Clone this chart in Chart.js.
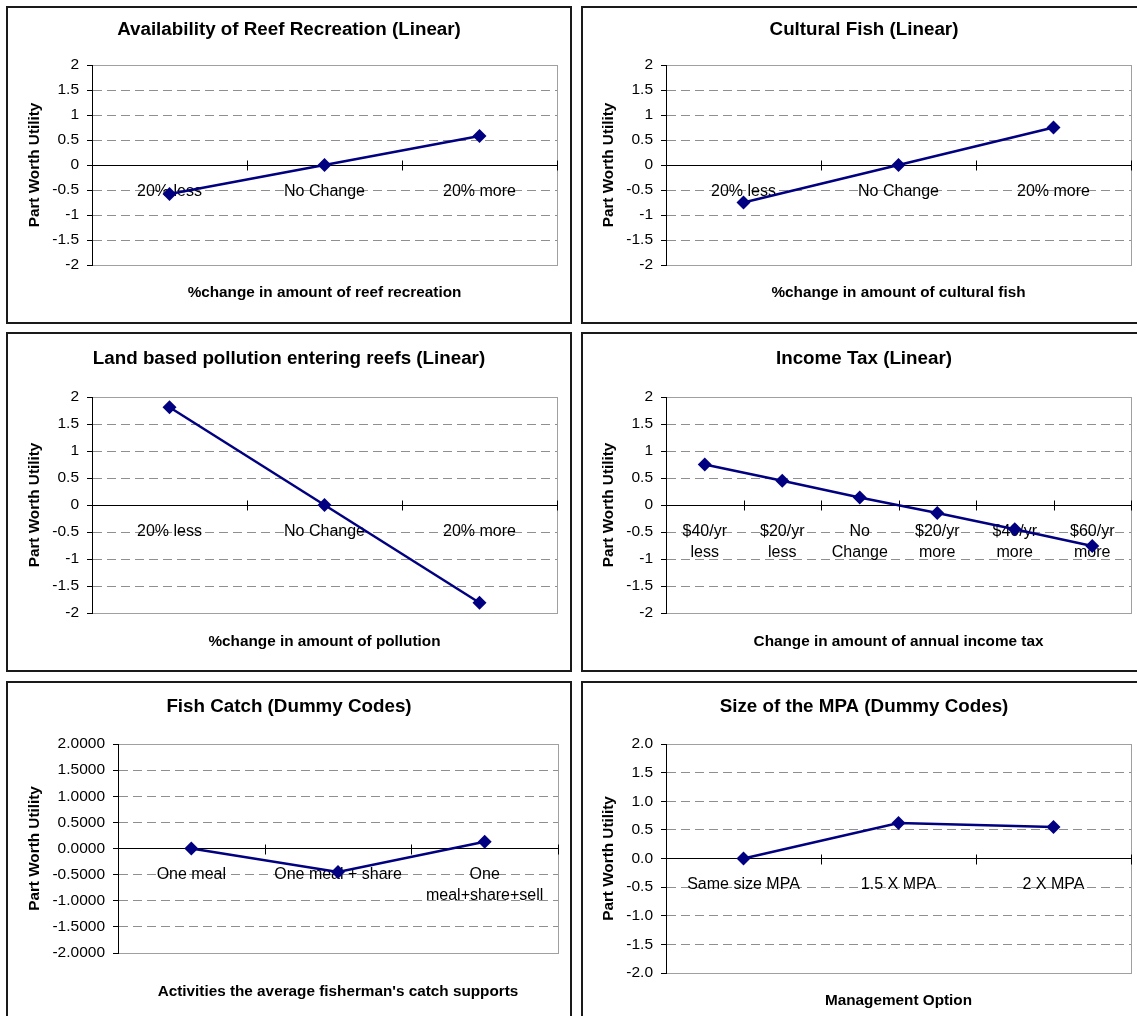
<!DOCTYPE html>
<html>
<head>
<meta charset="utf-8">
<title>Part Worth Utility by attribute</title>
<script src="https://cdn.jsdelivr.net/npm/chart.js@4.4.1/dist/chart.umd.min.js"></script>
<style>
  html, body { margin: 0; padding: 0; background: #fff; width: 1137px; height: 1016px; overflow: hidden; }
  .panel { position: absolute; box-sizing: border-box; border: 2px solid #1a1a1a; background: #fff; overflow: hidden; }
  .panel canvas { display: block; }
</style>
</head>
<body>
<div class="panel" id="reef"><canvas></canvas></div>
<div class="panel" id="cultural"><canvas></canvas></div>
<div class="panel" id="pollution"><canvas></canvas></div>
<div class="panel" id="tax"><canvas></canvas></div>
<div class="panel" id="catch"><canvas></canvas></div>
<div class="panel" id="mpa"><canvas></canvas></div>
<script>
// ---- Data ----
const utilityTicks = [2, 1.5, 1, 0.5, 0, -0.5, -1, -1.5, -2];

const reefCategories = ['20% less', 'No Change', '20% more'];
const reefValues = [-0.58, 0, 0.58];

const culturalCategories = ['20% less', 'No Change', '20% more'];
const culturalValues = [-0.75, 0, 0.75];

const pollutionCategories = ['20% less', 'No Change', '20% more'];
const pollutionValues = [1.81, 0, -1.81];

const taxCategories = [['$40/yr', 'less'], ['$20/yr', 'less'], ['No', 'Change'], ['$20/yr', 'more'], ['$40/yr', 'more'], ['$60/yr', 'more']];
const taxValues = [0.75, 0.45, 0.14, -0.15, -0.45, -0.76];

const catchCategories = ['One meal', 'One meal + share', ['One', 'meal+share+sell']];
const catchValues = [0, -0.45, 0.13];

const mpaCategories = ['Same size MPA', '1.5 X MPA', '2 X MPA'];
const mpaValues = [0, 0.62, 0.55];

// ---- Styling ----
const FONT = "'Liberation Sans', Arial, Helvetica, sans-serif";
const NAVY = '#000080';
const GRID = '#8f8f8f';
const FRAME = '#a0a0a0';
const BORDER = 2;
const TITLE_SIZE = 18.8;
const AXIS_TITLE_SIZE = 15.3;
const X_TICK_SIZE = 16;
const Y_TICK_SIZE = 15.5;

function plainFormat(v) { return String(v); }
function fixedFormat(d) { return v => v.toFixed(d); }

// Panel boxes: [left, top, width, height]; plot area: [left, top, right, bottom]
const panels = [
  { id: 'reef', box: [6, 6, 566, 318], area: [92, 65, 557, 265], titleY: 30, xTitleY: 293, yTitleX: 35,
    title: 'Availability of Reef Recreation (Linear)', xTitle: '%change in amount of reef recreation',
    labels: reefCategories, values: reefValues, format: plainFormat },
  { id: 'cultural', box: [581, 6, 566, 318], area: [666, 65, 1131, 265], titleY: 30, xTitleY: 293, yTitleX: 609,
    title: 'Cultural Fish (Linear)', xTitle: '%change in amount of cultural fish',
    labels: culturalCategories, values: culturalValues, format: plainFormat },
  { id: 'pollution', box: [6, 332, 566, 340], area: [92, 397, 557, 613], titleY: 359, xTitleY: 642, yTitleX: 35,
    title: 'Land based pollution entering reefs (Linear)', xTitle: '%change in amount of pollution',
    labels: pollutionCategories, values: pollutionValues, format: plainFormat },
  { id: 'tax', box: [581, 332, 566, 340], area: [666, 397, 1131, 613], titleY: 359, xTitleY: 642, yTitleX: 609,
    title: 'Income Tax (Linear)', xTitle: 'Change in amount of annual income tax',
    labels: taxCategories, values: taxValues, format: plainFormat },
  { id: 'catch', box: [6, 681, 566, 345], area: [118, 744, 558, 953], titleY: 707, xTitleY: 992, yTitleX: 35,
    title: 'Fish Catch (Dummy Codes)', xTitle: "Activities the average fisherman's catch supports",
    labels: catchCategories, values: catchValues, format: fixedFormat(4) },
  { id: 'mpa', box: [581, 681, 566, 345], area: [666, 744, 1131, 973], titleY: 707, xTitleY: 1001, yTitleX: 609,
    title: 'Size of the MPA (Dummy Codes)', xTitle: 'Management Option',
    labels: mpaCategories, values: mpaValues, format: fixedFormat(1) }
];

// Tick marks that cross the category axis at each category boundary
const crossTicks = {
  id: 'crossTicks',
  beforeDatasetsDraw(chart) {
    const xs = chart.scales.x, ys = chart.scales.y;
    const y0 = Math.round(ys.getPixelForValue(0)) + 0.5;
    const ctx = chart.ctx;
    ctx.save();
    ctx.strokeStyle = '#000';
    ctx.lineWidth = 1;
    ctx.beginPath();
    for (let i = 1; i <= chart.data.labels.length; i++) {
      const px = Math.round(xs.getPixelForValue(i - 0.5)) + 0.5;
      ctx.moveTo(px, y0 - 5);
      ctx.lineTo(px, y0 + 5);
    }
    ctx.stroke();
    ctx.restore();
  }
};

function buildPanel(p) {
  const el = document.getElementById(p.id);
  const [bx, by, bw, bh] = p.box;
  Object.assign(el.style, { left: bx + 'px', top: by + 'px', width: bw + 'px', height: bh + 'px' });
  const W = bw - 2 * BORDER, H = bh - 2 * BORDER;
  const cx = bx + BORDER, cy = by + BORDER;
  const canvas = el.querySelector('canvas');
  canvas.width = W; canvas.height = H;
  canvas.style.width = W + 'px'; canvas.style.height = H + 'px';

  const L = p.area[0] - cx;
  const T = p.area[1] - cy;
  const R = W - (p.area[2] - cx);
  const Bm = H - (p.area[3] - cy);

  const titleLH = TITLE_SIZE * 1.2;
  const titlePadTop = (p.titleY - cy) - titleLH / 2;
  const titlePadBottom = T - titlePadTop - titleLH;
  const axisLH = AXIS_TITLE_SIZE * 1.2;
  const yTitlePad = (p.yTitleX - cx) - axisLH / 2;
  const xTitlePad = H - (p.xTitleY - cy) - axisLH / 2;

  new Chart(canvas, {
    type: 'line',
    data: {
      labels: p.labels,
      datasets: [{
        data: p.values,
        xAxisID: 'x', yAxisID: 'y',
        borderColor: NAVY, backgroundColor: NAVY,
        borderWidth: 2.5, tension: 0, fill: false,
        pointStyle: 'rectRot', pointRadius: 7, pointHoverRadius: 7,
        pointBackgroundColor: NAVY, pointBorderColor: NAVY, pointBorderWidth: 0,
        clip: false
      }]
    },
    options: {
      responsive: false, animation: false, devicePixelRatio: 1,
      layout: { padding: 0 },
      plugins: {
        legend: { display: false },
        tooltip: { enabled: false },
        title: {
          display: true, text: p.title, color: '#000',
          font: { family: FONT, size: TITLE_SIZE, weight: 'bold', lineHeight: 1.2 },
          padding: { top: titlePadTop, bottom: titlePadBottom }
        }
      },
      scales: {
        x: {
          type: 'category', position: { y: 0 }, offset: true,
          grid: { display: false },
          border: { display: true, color: '#000', width: 1 },
          ticks: {
            autoSkip: false, maxRotation: 0, minRotation: 0, padding: 8, color: '#000',
            font: { family: FONT, size: X_TICK_SIZE, lineHeight: 1.3 }
          },
          afterFit: s => { s.height = 0; }
        },
        xTitle: {
          type: 'category', position: 'bottom', axis: 'x',
          grid: { display: false },
          border: { display: false },
          ticks: { display: false },
          title: {
            display: true, text: p.xTitle, color: '#000',
            font: { family: FONT, size: AXIS_TITLE_SIZE, weight: 'bold', lineHeight: 1.2 },
            padding: { top: 0, bottom: xTitlePad }
          },
          afterFit: s => { s.height = Bm; }
        },
        y: {
          type: 'linear', position: 'left', min: -2, max: 2,
          afterBuildTicks: s => { s.ticks = utilityTicks.map(v => ({ value: v })); },
          grid: {
            color: c => {
              if (!c.tick) return GRID;
              if (c.tick.value === 0) return 'rgba(0,0,0,0)';
              return Math.abs(c.tick.value) === 2 ? FRAME : GRID;
            },
            lineWidth: 1, drawTicks: true, tickLength: 5, tickColor: '#000', tickWidth: 1
          },
          border: {
            display: true, color: '#000', width: 1,
            dash: c => (c.tick && Math.abs(c.tick.value) < 2 ? [9, 5] : [])
          },
          ticks: {
            padding: 8, color: '#000',
            font: { family: FONT, size: Y_TICK_SIZE },
            callback: v => p.format(v)
          },
          title: {
            display: true, text: 'Part Worth Utility', color: '#000',
            font: { family: FONT, size: AXIS_TITLE_SIZE, weight: 'bold', lineHeight: 1.2 },
            padding: { top: yTitlePad, bottom: 0 }
          },
          afterFit: s => { s.width = L; }
        },
        yFrame: {
          type: 'linear', position: 'right', axis: 'y', min: -2, max: 2,
          grid: { display: false },
          border: { display: true, color: FRAME, width: 1 },
          ticks: { display: false },
          afterFit: s => { s.width = R; }
        }
      }
    },
    plugins: [crossTicks]
  });
}

panels.forEach(buildPanel);
</script>
</body>
</html>
